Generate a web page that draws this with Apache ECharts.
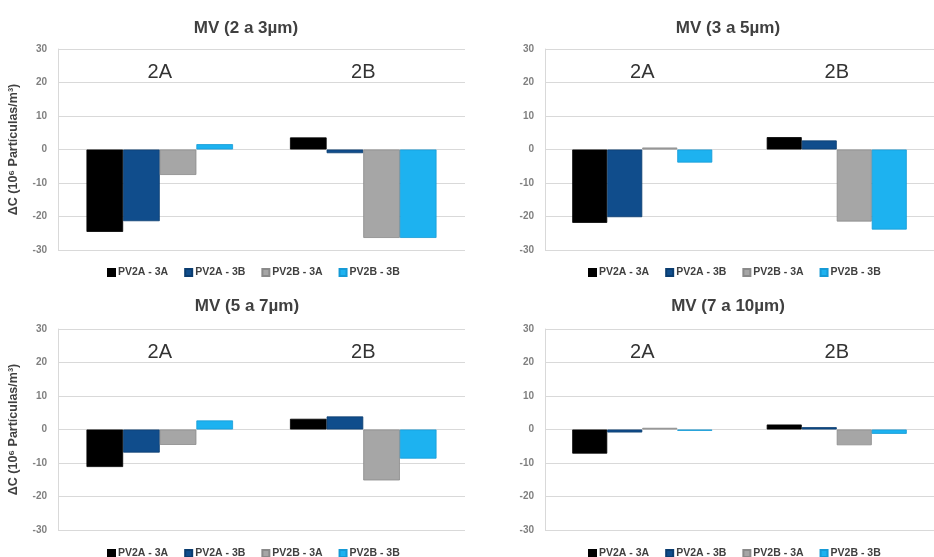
<!DOCTYPE html>
<html>
<head>
<meta charset="utf-8">
<script src="https://cdn.jsdelivr.net/npm/echarts@6/dist/echarts.min.js"></script>
<style>
html,body{margin:0;padding:0;background:#fff;}
#c{width:934px;height:557px;}
</style>
</head>
<body>
<div id="c"></div>
<script>
// ---- data ----
const categories = ['2A', '2B'];
const seriesNames = ['PV2A - 3A', 'PV2A - 3B', 'PV2B - 3A', 'PV2B - 3B'];
const panelTitles = ['MV (2 a 3µm)', 'MV (3 a 5µm)', 'MV (5 a 7µm)', 'MV (7 a 10µm)'];
const yTicks = [-30, -20, -10, 0, 10, 20, 30];
const yName = 'ΔC (10⁶ Partículas/m³)';

// MV 2-3 µm
const mv23_PV2A_3A = [-24.6, 3.6];
const mv23_PV2A_3B = [-21.4, -1.1];
const mv23_PV2B_3A = [-7.6, -26.4];
const mv23_PV2B_3B = [1.6, -26.4];
// MV 3-5 µm
const mv35_PV2A_3A = [-21.9, 3.7];
const mv35_PV2A_3B = [-20.2, 2.7];
const mv35_PV2B_3A = [0.6, -21.5];
const mv35_PV2B_3B = [-3.9, -23.9];
// MV 5-7 µm
const mv57_PV2A_3A = [-11.2, 3.2];
const mv57_PV2A_3B = [-6.9, 3.9];
const mv57_PV2B_3A = [-4.6, -15.2];
const mv57_PV2B_3B = [2.7, -8.7];
// MV 7-10 µm
const mv710_PV2A_3A = [-7.2, 1.5];
const mv710_PV2A_3B = [-0.9, 0.7];
const mv710_PV2B_3A = [0.5, -4.7];
const mv710_PV2B_3B = [-0.4, -1.3];

const panels = [
  [mv23_PV2A_3A, mv23_PV2A_3B, mv23_PV2B_3A, mv23_PV2B_3B],
  [mv35_PV2A_3A, mv35_PV2A_3B, mv35_PV2B_3A, mv35_PV2B_3B],
  [mv57_PV2A_3A, mv57_PV2A_3B, mv57_PV2B_3A, mv57_PV2B_3B],
  [mv710_PV2A_3A, mv710_PV2A_3B, mv710_PV2B_3A, mv710_PV2B_3B]
];

// ---- layout / style ----
const colors = ['#000000', '#104d8c', '#a6a6a6', '#1db2f0'];
const borders = ['#000000', '#0b3d70', '#8a8a8a', '#159ad6'];
const FONT = 'Liberation Sans, Arial, sans-serif';
const gridPos = [
  {left: 58, top: 49, width: 407, height: 201},
  {left: 545, top: 49, width: 400, height: 201},
  {left: 58, top: 329, width: 407, height: 201},
  {left: 545, top: 329, width: 400, height: 201}
];
const titlePos = [{x: 241, y: 15}, {x: 723, y: 15}, {x: 242, y: 293}, {x: 723, y: 293}];
const legendPos = [{x: 107, y: 267}, {x: 588, y: 267}, {x: 107, y: 548}, {x: 588, y: 548}];

const option = {
  backgroundColor: '#ffffff',
  animation: false,
  title: panelTitles.map((t, i) => ({
    text: t, left: titlePos[i].x, top: titlePos[i].y, textAlign: 'center',
    textStyle: {fontFamily: FONT, fontSize: 17, fontWeight: 'bold', color: '#404040'}
  })),
  legend: legendPos.map((p) => ({
    data: seriesNames, left: p.x, top: p.y, itemWidth: 7, itemHeight: 7, itemGap: 16,
    icon: 'rect', padding: 0,
    textStyle: {fontFamily: FONT, fontSize: 10.5, fontWeight: 'bold', color: '#404040', padding: [0, 0, 0, -2]}
  })),
  grid: gridPos.map(g => Object.assign({containLabel: false}, g)),
  xAxis: gridPos.map((g, i) => ({
    type: 'category', gridIndex: i, data: categories, position: 'top',
    axisLine: {show: false, onZero: false}, axisTick: {show: false},
    axisLabel: {inside: true, margin: 13, fontFamily: FONT, fontSize: 20, color: '#333333'}
  })),
  yAxis: gridPos.map((g, i) => ({
    type: 'value', gridIndex: i, min: yTicks[0], max: yTicks[yTicks.length - 1], interval: 10,
    name: (i % 2 === 0) ? yName : '', nameLocation: 'middle', nameGap: 38, nameRotate: 90,
    nameTextStyle: {fontFamily: FONT, fontSize: 12.5, fontWeight: 'bold', color: '#404040'},
    axisLine: {show: true, lineStyle: {color: '#d9d9d9'}},
    axisTick: {show: false},
    splitLine: {lineStyle: {color: '#d9d9d9', width: 1}},
    axisLabel: {margin: 11, fontFamily: FONT, fontSize: 10, fontWeight: 'bold', color: '#808080'}
  })),
  series: []
};

panels.forEach((vals, i) => {
  vals.forEach((d, j) => {
    option.series.push({
      type: 'bar', name: seriesNames[j], xAxisIndex: i, yAxisIndex: i, data: d,
      barGap: '0%', barCategoryGap: '28%',
      itemStyle: {color: colors[j], borderColor: borders[j], borderWidth: 0.8}
    });
  });
});

const chart = echarts.init(document.getElementById('c'), null, {renderer: 'canvas'});
chart.setOption(option);
</script>
</body>
</html>
